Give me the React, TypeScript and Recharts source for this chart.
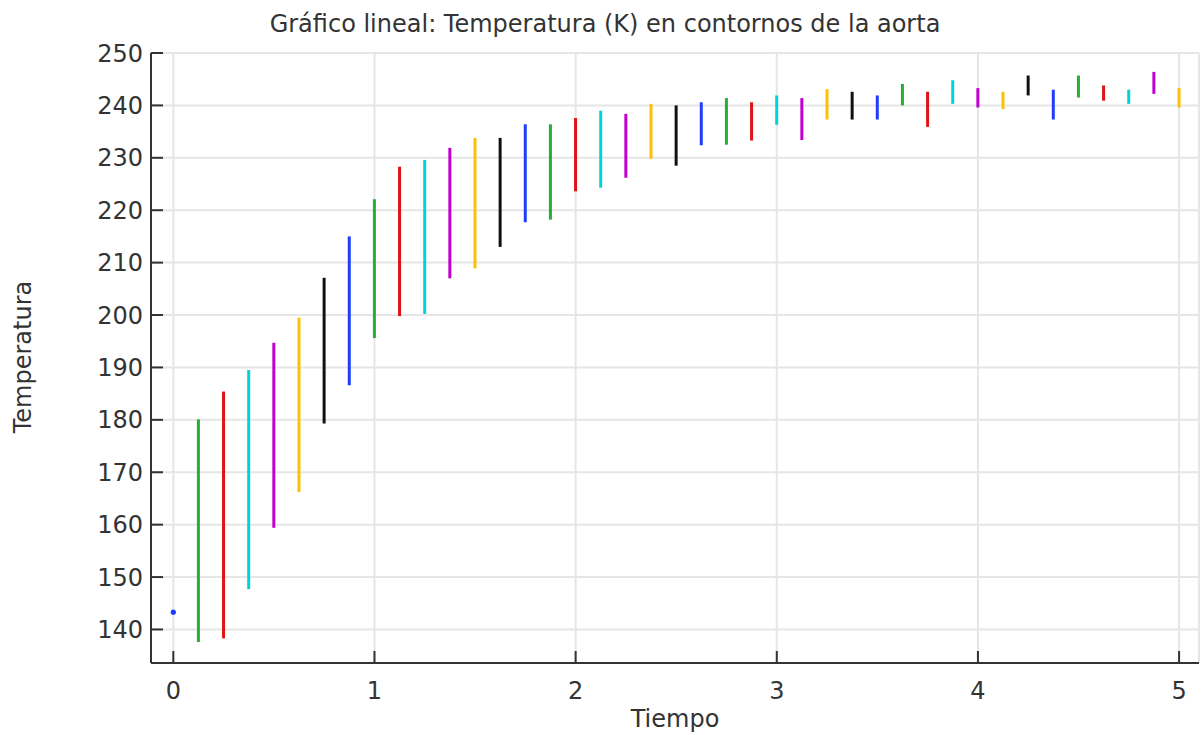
import { ComposedChart, Bar, Cell, Scatter, XAxis, YAxis, CartesianGrid } from "recharts";

// tiempo de cada contorno (s)
const times = [
  0.125, 0.25, 0.375, 0.5, 0.625, 0.75, 0.875, 1.0, 1.125, 1.25, 1.375, 1.5, 1.625, 1.75,
  1.875, 2.0, 2.125, 2.25, 2.375, 2.5, 2.625, 2.75, 2.875, 3.0, 3.125, 3.25, 3.375, 3.5,
  3.625, 3.75, 3.875, 4.0, 4.125, 4.25, 4.375, 4.5, 4.625, 4.75, 4.875, 5.0,
];
// temperatura mínima / máxima en el contorno (K)
const tMin = [
  137.6, 138.3, 147.7, 159.4, 166.2, 179.3, 186.6, 195.6, 199.8, 200.2, 207.0, 208.9, 213.0, 217.7,
  218.2, 223.6, 224.3, 226.2, 229.8, 228.5, 232.4, 232.5, 233.3, 236.3, 233.4, 237.3, 237.3, 237.3,
  240.0, 235.9, 240.3, 239.6, 239.3, 241.9, 237.3, 241.5, 240.9, 240.3, 242.2, 239.6,
];
const tMax = [
  180.1, 185.4, 189.5, 194.7, 199.5, 207.1, 215.0, 222.1, 228.3, 229.6, 231.9, 233.8, 233.8, 236.4,
  236.4, 237.6, 239.0, 238.4, 240.3, 240.0, 240.6, 241.4, 240.6, 241.9, 241.4, 243.1, 242.6, 241.9,
  244.1, 242.6, 244.8, 243.3, 242.6, 245.7, 243.0, 245.7, 243.8, 243.0, 246.4, 243.3,
];
// t = 0: un solo valor
const startTime = [0];
const startTemp = [143.3];

const xTicks = [0, 1, 2, 3, 4, 5];
const yTicks = [140, 150, 160, 170, 180, 190, 200, 210, 220, 230, 240, 250];

// ciclo de colores (empieza en verde porque t=0 es azul)
const palette = ["#1f3dff", "#22b232", "#e01414", "#00d2da", "#c000d0", "#ffc000", "#111111"];

const data = times.map((t, i) => ({ t, range: [tMin[i], tMax[i]], color: palette[(i + 1) % 7] }));
const startData = startTime.map((t, i) => ({ t, v: startTemp[i] }));

const axisStroke = { stroke: "#333", strokeWidth: 2 };
const tickFont = { fill: "#333", fontSize: 24 };

export default function App() {
  return (
    <div style={{ position: "absolute", left: 0, top: 0, width: 1201, height: 735, fontFamily: "DejaVu Sans", background: "#fff" }}>
      <ComposedChart width={1201} height={735} data={data} margin={{ top: 53, right: 2, bottom: 0, left: 0 }}>
        <CartesianGrid xAxisId="b" yAxisId="l" stroke="#e6e6e6" strokeWidth={2} />
        <XAxis
          xAxisId="b"
          type="number"
          dataKey="t"
          domain={[-0.111, 5.099]}
          ticks={xTicks}
          interval={0}
          allowDataOverflow
          height={72}
          tickSize={-12}
          tickMargin={31}
          axisLine={axisStroke}
          tickLine={axisStroke}
          tick={tickFont}
        />
        <XAxis
          xAxisId="t"
          orientation="top"
          type="number"
          domain={[-0.111, 5.099]}
          ticks={xTicks}
          interval={0}
          allowDataOverflow
          height={0}
          tickSize={-12}
          axisLine={axisStroke}
          tickLine={axisStroke}
          tickFormatter={() => ""}
        />
        <YAxis
          yAxisId="l"
          type="number"
          domain={[133.6, 250]}
          ticks={yTicks}
          interval={0}
          allowDataOverflow
          width={151}
          tickSize={-12}
          tickMargin={20}
          axisLine={axisStroke}
          tickLine={axisStroke}
          tick={tickFont}
        />
        <YAxis
          yAxisId="r"
          orientation="right"
          type="number"
          domain={[133.6, 250]}
          ticks={yTicks}
          interval={0}
          allowDataOverflow
          width={0}
          tickSize={-12}
          axisLine={axisStroke}
          tickLine={axisStroke}
          tickFormatter={() => ""}
        />
        <Bar xAxisId="b" yAxisId="l" dataKey="range" barSize={3} isAnimationActive={false}>
          {data.map((d, i) => (
            <Cell key={i} fill={d.color} />
          ))}
        </Bar>
        <Scatter
          xAxisId="b"
          yAxisId="l"
          data={startData}
          dataKey="v"
          fill="#1f3dff"
          shape={(p: any) => <circle cx={p.cx} cy={p.cy} r={2.6} fill="#1f3dff" />}
          isAnimationActive={false}
        />
      </ComposedChart>
      <svg width={1201} height={735} style={{ position: "absolute", left: 0, top: 0, pointerEvents: "none" }}>
        <text x={605} y={32} textAnchor="middle" fontSize={24} fill="#333">
          Gráfico lineal: Temperatura (K) en contornos de la aorta
        </text>
        <text x={675} y={727} textAnchor="middle" fontSize={24} fill="#333">
          Tiempo
        </text>
        <text x={31} y={357} textAnchor="middle" fontSize={24} fill="#333" transform="rotate(-90 31 357)">
          Temperatura
        </text>
      </svg>
    </div>
  );
}
